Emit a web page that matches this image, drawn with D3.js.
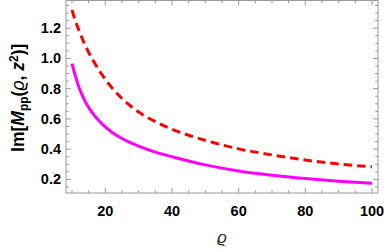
<!DOCTYPE html>
<html>
<head>
<meta charset="utf-8">
<script src="https://cdn.jsdelivr.net/npm/d3@7"></script>
<style>
  body { margin: 0; background: #fff; }
  text { font-family: "Liberation Sans", Arial, sans-serif; }
</style>
</head>
<body>
<div id="chart"></div>
<script>
// values
var rho = [10, 11, 12, 13, 14, 15, 16, 18, 20, 22, 25, 30, 35, 40, 50, 60, 70, 80, 90, 100];
var magentaVals = [0.965, 0.885, 0.815, 0.76, 0.713, 0.675, 0.643, 0.59, 0.547, 0.512, 0.47, 0.42, 0.38, 0.35, 0.296, 0.256, 0.228, 0.206, 0.188, 0.174];
var redVals = [1.32, 1.25, 1.19, 1.135, 1.085, 1.04, 1.0, 0.925, 0.862, 0.805, 0.735, 0.645, 0.582, 0.532, 0.458, 0.402, 0.362, 0.328, 0.302, 0.283];
var xTicks = [20, 40, 60, 80, 100];
var yTicks = [0.2, 0.4, 0.6, 0.8, 1.0, 1.2];

var W = 388, H = 252;
var margin = {top: 0.5, right: 10, bottom: 59, left: 66};
var width = W - margin.left - margin.right,
    height = H - margin.top - margin.bottom;

var svg = d3.select("#chart")
  .append("svg")
    .attr("width", W)
    .attr("height", H)
  .append("g")
    .attr("transform", "translate(" + margin.left + "," + margin.top + ")");

var x = d3.scaleLinear().domain([8.2, 101.8]).range([0, width]);
var y = d3.scaleLinear().domain([0.11, 1.383]).range([height, 0]);

var frameColor = "#999";

// minor ticks
var xMinor = d3.range(10, 101, 5);
var yMinor = d3.range(0.15, 1.38, 0.05);

function tickSet(values, major, scale, horiz) {
  values.forEach(function(v) {
    var isMajor = major.some(function(m) { return Math.abs(m - v) < 1e-6; });
    var len = isMajor ? 5 : 2.8;
    if (horiz) {
      var px = scale(v);
      svg.append("line").attr("x1", px).attr("x2", px).attr("y1", height).attr("y2", height - len)
        .attr("stroke", frameColor).attr("stroke-width", 1);
      svg.append("line").attr("x1", px).attr("x2", px).attr("y1", 0).attr("y2", len)
        .attr("stroke", frameColor).attr("stroke-width", 1);
    } else {
      var py = scale(v);
      svg.append("line").attr("y1", py).attr("y2", py).attr("x1", 0).attr("x2", len)
        .attr("stroke", frameColor).attr("stroke-width", 1);
      svg.append("line").attr("y1", py).attr("y2", py).attr("x1", width).attr("x2", width - len)
        .attr("stroke", frameColor).attr("stroke-width", 1);
    }
  });
}
tickSet(xMinor, xTicks, x, true);
tickSet(yMinor, yTicks, y, false);

// frame
svg.append("rect")
  .attr("x", 0).attr("y", 0)
  .attr("width", width).attr("height", height)
  .attr("fill", "none")
  .attr("stroke", frameColor)
  .attr("stroke-width", 1);

// tick labels
svg.selectAll(".xl")
  .data(xTicks)
  .enter()
  .append("text")
  .attr("x", function(d) { return x(d); })
  .attr("y", height + 23)
  .attr("text-anchor", "middle")
  .attr("font-size", 14.5)
  .attr("font-weight", "bold")
  .text(function(d) { return d; });

svg.selectAll(".yl")
  .data(yTicks)
  .enter()
  .append("text")
  .attr("x", -5)
  .attr("y", function(d) { return y(d) + 5; })
  .attr("text-anchor", "end")
  .attr("font-size", 14.5)
  .attr("font-weight", "bold")
  .text(function(d) { return d.toFixed(1); });

// curves
svg.append("clipPath").attr("id", "clip")
  .append("rect").attr("width", width).attr("height", height);

var line = d3.line()
  .x(function(d) { return x(d[0]); })
  .y(function(d) { return y(d[1]); })
  .curve(d3.curveMonotoneX);

svg.append("path")
  .datum(d3.zip(rho, magentaVals))
  .attr("clip-path", "url(#clip)")
  .attr("fill", "none")
  .attr("stroke", "#ff00ff")
  .attr("stroke-width", 3)
  .attr("d", line);

svg.append("path")
  .datum(d3.zip(rho, redVals))
  .attr("clip-path", "url(#clip)")
  .attr("fill", "none")
  .attr("stroke", "#ff0000")
  .attr("stroke-width", 3)
  .attr("stroke-dasharray", "8.5,5")
  .attr("d", line);

// axis titles
svg.append("text")
  .attr("x", width / 2)
  .attr("y", height + 50)
  .attr("text-anchor", "middle")
  .attr("font-size", 17)
  .attr("font-style", "italic")
  .attr("fill", "#333")
  .text("ϱ");

var yt = svg.append("text")
  .attr("transform", "translate(" + (-42) + "," + (height / 2 + 1) + ")rotate(-90)")
  .attr("text-anchor", "middle")
  .attr("font-size", 17.5)
  .attr("font-weight", "bold");
yt.append("tspan").text("Im[");
yt.append("tspan").attr("font-style", "italic").text("M");
yt.append("tspan").attr("font-size", 12).attr("dy", 4).text("pp");
yt.append("tspan").attr("dy", -4).text("(");
yt.append("tspan").attr("font-style", "italic").attr("font-weight", "normal").text("ϱ");
yt.append("tspan").text(", ");
yt.append("tspan").attr("font-style", "italic").text("z");
yt.append("tspan").attr("font-size", 12).attr("dy", -6).text("2");
yt.append("tspan").attr("dy", 6).text(")]");
</script>
</body>
</html>
